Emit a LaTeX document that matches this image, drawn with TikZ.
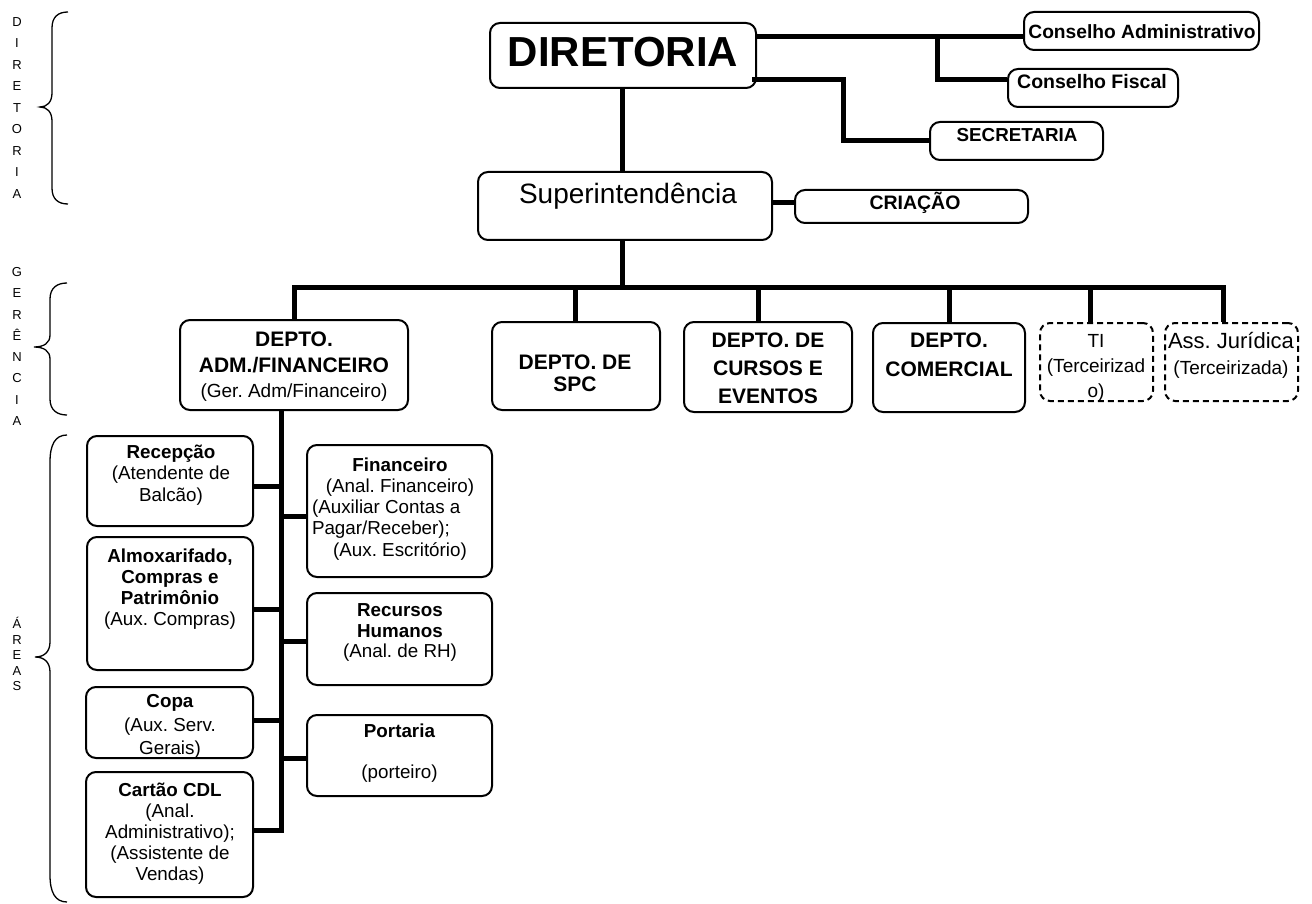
\documentclass[tikz,border=0pt]{standalone}
\usepackage{fontspec}
\setmainfont{Liberation Sans}
\usetikzlibrary{fit}
\newcommand\fsz[2]{\fontsize{#1pt}{#2pt}\selectfont}

\begin{document}
\frenchspacing
\begin{tikzpicture}[x=1pt,y=-1pt,
  box/.style={draw, line width=2pt, rounded corners=10pt, inner sep=0pt},
  dbox/.style={box, dash pattern=on 6pt off 4pt},
  conn/.style={line width=5pt},
  brace/.style={line width=1.3pt},
  one/.style={inner sep=0pt, anchor=base},
  multi/.style={inner sep=0pt, anchor=north, align=center},
  vert/.style={inner sep=0pt, align=center},
]
\useasboundingbox (0,0) rectangle (1312,904);

% ---------- boxes ----------
\node[box, fit={(490,23) (756,88)}] (dir) {};
\node[box, fit={(478,172) (772,240)}] (sup) {};
\node[box, fit={(1024,12) (1259,50)}] (cadm) {};
\node[box, fit={(1008,69) (1178,107)}] (cfis) {};
\node[box, fit={(930,122) (1103,160)}] (sec) {};
\node[box, fit={(795,190) (1028,223)}] (cria) {};

\node[box, fit={(180,320) (408,410)}] (adm) {};
\node[box, fit={(492,322) (660,410)}] (spc) {};
\node[box, fit={(684,322) (852,412)}] (cur) {};
\node[box, fit={(873,323) (1025,412)}] (com) {};
\node[dbox, fit={(1040,323) (1153,401)}] (ti) {};
\node[dbox, fit={(1165,323) (1298,401)}] (jur) {};

\node[box, fit={(87,436) (253,526)}] (rec) {};
\node[box, fit={(87,537) (253,670)}] (alm) {};
\node[box, fit={(86,687) (253,758)}] (copa) {};
\node[box, fit={(86,772) (253,897)}] (cdl) {};
\node[box, fit={(307,445) (492,577)}] (fin) {};
\node[box, fit={(307,593) (492,685)}] (rh) {};
\node[box, fit={(307,715) (492,796)}] (port) {};

% ---------- texts ----------
\node[one, font=\bfseries\fsz{42}{50}] (dir-t) at (623,67) {DIRETORIA};
\node[one, font=\fsz{28}{34}] (sup-t) at (628,204) {Superintendência};
\node[one, font=\bfseries\fsz{19.2}{23}] (cadm-t) at (1142,39) {Conselho Administrativo};
\node[one, font=\bfseries\fsz{19.5}{23}] (cfis-t) at (1092,89) {Conselho Fiscal};
\node[one, font=\bfseries\fsz{18.8}{23}] (sec-t) at (1017,142) {SECRETARIA};
\node[one, font=\bfseries\fsz{19.5}{23}] (cria-t) at (915,210) {CRIAÇÃO};

\node[multi, font=\bfseries\fsz{21}{25.5}] (adm-t) at (294,332)
  {DEPTO.\\ADM./FINANCEIRO\\{\mdseries\fsz{19}{25.5}(Ger. Adm/Financeiro)}};
\node[multi, font=\bfseries\fsz{21}{22}] (spc-t) at (575,355) {DEPTO. DE\\SPC};
\node[multi, font=\bfseries\fsz{21}{28}] (cur-t) at (768,333) {DEPTO. DE\\CURSOS E\\EVENTOS};
\node[multi, font=\bfseries\fsz{21}{29}] (com-t) at (949,333) {DEPTO.\\COMERCIAL};
\node[multi, font=\fsz{19}{25}] (ti-t) at (1096,334.4) {TI\\(Terceirizad\\o)};
\node[multi, font=\fsz{22}{26}] (jur-t) at (1231,332)
  {Ass. Jurídica\\{\fsz{19}{26}(Terceirizada)}};

\node[multi, font=\fsz{18.8}{21.5}] (rec-t) at (171,444.5)
  {\textbf{Recepção}\\(Atendente de\\Balcão)};
\node[multi, font=\fsz{18.8}{21.2}] (fin-t) at (400,457.5)
  {\textbf{Financeiro}\\(Anal. Financeiro)\\\makebox[176pt][l]{(Auxiliar Contas a}\\\makebox[176pt][l]{Pagar/Receber);}\\(Aux. Escritório)};
\node[multi, font=\fsz{18.8}{21}] (alm-t) at (170,548.5)
  {\textbf{Almoxarifado,}\\\textbf{Compras e}\\\textbf{Patrimônio}\\(Aux. Compras)};
\node[multi, font=\fsz{18.8}{20.5}] (rh-t) at (400,603.5)
  {\textbf{Recursos}\\\textbf{Humanos}\\(Anal. de RH)};
\begin{scope}
  \clip (86,687) rectangle (253,757);
  \node[multi, font=\fsz{18.8}{23.5}] (copa-t) at (170,694.5)
    {\textbf{Copa}\\(Aux. Serv.\\Gerais)};
\end{scope}
\node[multi, font=\fsz{18.8}{20.5}] (port-t) at (399.5,723.5)
  {\textbf{Portaria}\\[20.5pt](porteiro)};
\node[multi, font=\fsz{18.8}{21}] (cdl-t) at (170,782.5)
  {\textbf{Cartão CDL}\\(Anal.\\Administrativo);\\(Assistente de\\Vendas)};

% ---------- connectors ----------
\draw[conn] (dir.south -| 622,0) -- (sup.north -| 622,0);
\draw[conn] (dir.east |- 0,37) -- (cadm.west |- 0,37);
\coordinate (jf) at (937,37);
\draw[conn] (jf) |- (cfis.west |- 0,80);
\draw[conn] ([xshift=-5pt]dir.east |- 0,80) -- (843,80) |- (sec.west);
\draw[conn] (sup.east |- 0,203) -- (cria.west |- 0,203);

\coordinate (bar) at (622,287);
\draw[conn] (sup.south -| bar) -- (bar);
\draw[conn] (adm.north) |- (bar) -| (jur.north -| 1223,0);
\draw[conn] (spc.north -| 575,0) -- (bar -| 575,0);
\draw[conn] (cur.north -| 758,0) -- (bar -| 758,0);
\draw[conn] (com.north -| 949,0) -- (bar -| 949,0);
\draw[conn] (ti.north -| 1090,0) -- (bar -| 1090,0);

\coordinate (spine) at (281,0);
\draw[conn] (adm.south -| spine) |- (cdl.east |- 0,830);
\draw[conn] (rec.east |- 0,486) -- (spine |- 0,486);
\draw[conn] (alm.east |- 0,609) -- (spine |- 0,609);
\draw[conn] (copa.east |- 0,720) -- (spine |- 0,720);
\draw[conn] (fin.west |- 0,516) -- (spine |- 0,516);
\draw[conn] (rh.west |- 0,641) -- (spine |- 0,641);
\draw[conn] (port.west |- 0,758) -- (spine |- 0,758);

% ---------- level labels with braces ----------
\node[vert, font=\fsz{13}{21.5}] (lv-dir) at (17,108) {D\\I\\R\\E\\T\\O\\R\\I\\A};
\node[vert, font=\fsz{13}{21.3}] (lv-ger) at (17,346.5) {G\\E\\R\\Ê\\N\\C\\I\\A};
\node[vert, font=\fsz{13}{15.5}] (lv-are) at (17,654) {Á\\R\\E\\A\\S};

\draw[brace] (68,12) .. controls (58,12) and (52,17) .. (52,28) -- (52,93)
  .. controls (52,102) and (47,107) .. (40,107)
  .. controls (47,107) and (52,112) .. (52,121) -- (52,188)
  .. controls (52,199) and (58,204) .. (68,204);
\draw[brace] (67,283) .. controls (57,283) and (50,288) .. (50,299) -- (50,335)
  .. controls (50,343) and (44,347) .. (34,347)
  .. controls (44,347) and (50,351) .. (50,359) -- (50,399)
  .. controls (50,410) and (57,415) .. (67,415);
\draw[brace] (67,435) .. controls (55,435) and (50,445) .. (50,462) -- (50,642)
  .. controls (50,652) and (44,657) .. (35,657)
  .. controls (44,657) and (50,662) .. (50,672) -- (50,875)
  .. controls (50,892) and (55,902) .. (67,902);
\end{tikzpicture}
\end{document}
